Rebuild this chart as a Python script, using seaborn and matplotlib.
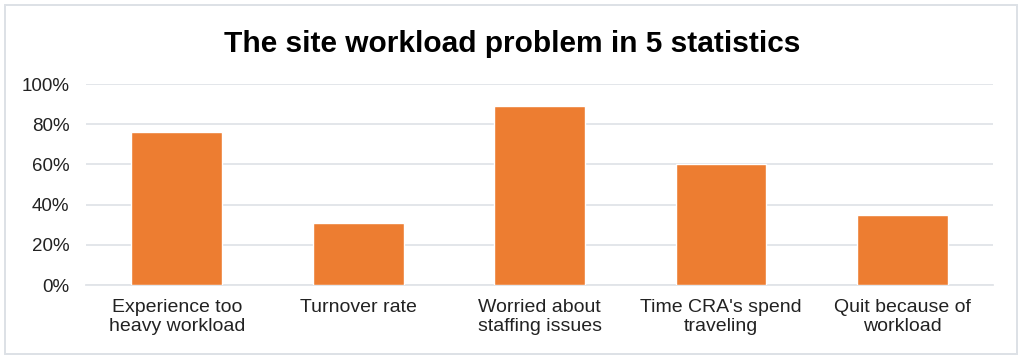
import matplotlib
matplotlib.use("Agg")
import matplotlib.pyplot as plt
import seaborn as sns
import pandas as pd
from matplotlib.patches import Rectangle
from matplotlib.ticker import PercentFormatter

categories = ["Experience too\nheavy workload", "Turnover rate", "Worried about\nstaffing issues",
              "Time CRA's spend\ntraveling", "Quit because of\nworkload"]
shares = [0.76, 0.31, 0.89, 0.60, 0.35]
y_ticks = [0, 0.2, 0.4, 0.6, 0.8, 1.0]

sns.set_theme(style="white")
plt.rcParams['font.family'] = ['Liberation Sans', 'DejaVu Sans']

df = pd.DataFrame({"category": categories, "share": shares})

fig = plt.figure(figsize=(10.24, 3.59), dpi=100)
ax = fig.add_axes([0.084, 0.206, 0.886, 0.56])

sns.barplot(data=df, x="category", y="share", color="#ED7D31", saturation=1,
            width=0.5, ax=ax, zorder=3)

ax.set_ylim(0, 1.0)
ax.set_yticks(y_ticks)
ax.yaxis.set_major_formatter(PercentFormatter(1.0, decimals=0))
ax.grid(axis="y", color="#E1E4E8", linewidth=1.3, zorder=0)
ax.set_xlabel("")
ax.set_ylabel("")
for s in ["top", "right", "left"]:
    ax.spines[s].set_visible(False)
ax.spines["bottom"].set_color("#E1E4E8")
ax.spines["bottom"].set_linewidth(1.3)
ax.tick_params(axis="both", length=0, colors="#222222")
ax.tick_params(axis="y", labelsize=13.5, pad=12)
ax.tick_params(axis="x", labelsize=14, pad=10)
for lbl in ax.get_xticklabels():
    lbl.set_linespacing(1.18)

fig.text(0.5, 0.878, "The site workload problem in 5 statistics", ha="center", va="center",
         fontsize=21.5, fontweight="bold", color="black")

# chart frame
fig.patches.append(Rectangle((0.005, 0.015), 0.988, 0.972, transform=fig.transFigure,
                             fill=False, edgecolor="#DDE1E6", linewidth=1.4))

fig.savefig("out.png", dpi=100)
